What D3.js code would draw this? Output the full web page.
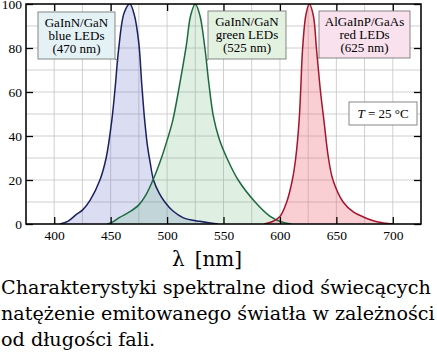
<!DOCTYPE html>
<html>
<head>
<meta charset="utf-8">
<script src="https://cdn.jsdelivr.net/npm/d3@7"></script>
<style>
  body { margin: 0; background: #fff; }
  svg { display: block; }
</style>
</head>
<body>
<div id="chart"></div>
<script>
// spectra: [wavelength nm, relative intensity %]
var blueLED = [[405,0],[412,1.2],[420,4.5],[425,6.3],[432,11],[440.5,20],[446,30],[451,47],[454,62],[457,79],[462,96],[467,100],[471,95],[475,82],[477.5,64],[480,48],[482.5,36],[485,28],[488,20],[493,14],[498,10],[505,6],[514.5,2.8],[529,1.2],[545,0]];
var greenLED = [[447,0],[452,1],[458,3],[467,5.6],[475,8.7],[481,13],[487.5,20],[495,30],[500,38],[505,47],[511,63],[517,81],[521,95],[525,100],[529,95],[533.5,80],[537,64],[541,49],[546,39],[553,30],[563,20],[578,10],[591,3.6],[601,1],[610,0]];
var redLED = [[586,0],[593,1],[600,3.4],[606,10],[611,20],[614,30],[617,47],[618.5,62],[620,79],[623,95],[626,100],[629.5,95],[632.5,79],[636,60],[639,47],[643,30],[647,20],[656,10],[665,5.5],[674,3.2],[686,1],[700,0]];

var xTicks = [400, 450, 500, 550, 600, 650, 700];
var yTicks = [0, 20, 40, 60, 80, 100];
var boxLabels = [
  ["GaInN/GaN", "blue LEDs", "(470 nm)"],
  ["GaInN/GaN", "green LEDs", "(525 nm)"],
  ["AlGaInP/GaAs", "red LEDs", "(625 nm)"]
];
var captionLines = [
  "Charakterystyki spektralne diod świecących",
  "natężenie emitowanego światła w zależności",
  "od długości fali."
];

var W = 437, H = 360;
var margin = {left: 26, right: 16, top: 4, bottom: 136};
var width = W - margin.left - margin.right;
var height = H - margin.top - margin.bottom;

var svg = d3.select("#chart").append("svg")
  .attr("width", W).attr("height", H);
svg.append("rect").attr("width", W).attr("height", H).attr("fill", "#fff");

svg.append("clipPath").attr("id", "plotClip")
  .append("rect").attr("width", width).attr("height", height);

var g = svg.append("g")
  .attr("transform", "translate(" + margin.left + "," + margin.top + ")");

var x = d3.scaleLinear().domain([375, 725]).range([0, width]);
var y = d3.scaleLinear().domain([0, 100]).range([height, 0]);

// grid, every 25 nm and every 10 %
g.append("g").selectAll("line").data(d3.range(375, 726, 25)).enter().append("line")
  .attr("x1", d => x(d)).attr("x2", d => x(d))
  .attr("y1", 0).attr("y2", height)
  .attr("stroke", "#c4c4c4").attr("stroke-width", 0.8);
g.append("g").selectAll("line").data(d3.range(0, 101, 10)).enter().append("line")
  .attr("y1", d => y(d)).attr("y2", d => y(d))
  .attr("x1", 0).attr("x2", width)
  .attr("stroke", "#c4c4c4").attr("stroke-width", 0.8);

var series = [
  {data: blueLED, fill: "rgba(105,115,205,0.24)", stroke: "#1b2160"},
  {data: greenLED, fill: "rgba(95,180,115,0.2)", stroke: "#1d6a40"},
  {data: redLED, fill: "rgba(240,95,110,0.3)", stroke: "#a3162e"}
];

var curve = d3.curveCatmullRom.alpha(0.5);
var area = d3.area().curve(curve)
  .x(d => x(d[0])).y0(y(0)).y1(d => y(d[1]));
var line = d3.line().curve(curve)
  .x(d => x(d[0])).y(d => y(d[1]));

var plot = g.append("g").attr("clip-path", "url(#plotClip)");
series.forEach(function(s){
  plot.append("path").datum(s.data).attr("d", area).attr("fill", s.fill);
});
series.forEach(function(s){
  plot.append("path").datum(s.data).attr("d", line)
    .attr("fill", "none").attr("stroke", s.stroke).attr("stroke-width", 1.5);
});

// frame
g.append("rect").attr("width", width).attr("height", height)
  .attr("fill", "none").attr("stroke", "#000").attr("stroke-width", 1.5);

// axes with inward ticks
var serif = "'Liberation Serif', 'Times New Roman', serif";
var xAxis = g.append("g").attr("transform", "translate(0," + height + ")")
  .call(d3.axisBottom(x).tickValues(xTicks).tickSizeInner(-7).tickSizeOuter(0).tickPadding(6));
var xAxisTop = g.append("g")
  .call(d3.axisTop(x).tickValues(xTicks).tickSizeInner(-7).tickSizeOuter(0).tickFormat(""));
var yAxis = g.append("g")
  .call(d3.axisLeft(y).tickValues(yTicks).tickSizeInner(-7).tickSizeOuter(0).tickPadding(4));
var yAxisRight = g.append("g").attr("transform", "translate(" + width + ",0)")
  .call(d3.axisRight(y).tickValues(yTicks).tickSizeInner(-7).tickSizeOuter(0).tickFormat(""));

[xAxis, xAxisTop, yAxis, yAxisRight].forEach(function(a){
  a.attr("font-family", null).attr("font-size", null);
  a.select(".domain").remove();
  a.selectAll(".tick line").attr("stroke", "#000").attr("stroke-width", 1.3);
  a.selectAll("text").style("font-family", serif).style("font-size", "13.5px").attr("fill", "#000");
});

// axis title
var xTitle = svg.append("text")
  .attr("x", 172).attr("y", 266)
  .style("font-family", "'DejaVu Serif', serif").style("font-size", "20px");
xTitle.append("tspan").text("λ");
xTitle.append("tspan").attr("dx", 10).text("[nm]");

// label boxes: [left, top, width, height] in px, leader target in data units
var boxes = [
  {pos: [38, 12, 77, 47], fill: "#e4f2f6", lines: boxLabels[0], corner: "right", target: [457, 74]},
  {pos: [208, 11, 78, 48], fill: "#e3f1e1", lines: boxLabels[1], corner: "left", target: [535, 74]},
  {pos: [319, 11, 91, 47], fill: "#f9e2ee", lines: boxLabels[2], corner: "left", target: [633, 75]}
];

boxes.forEach(function(b){
  var bx = b.pos[0], by = b.pos[1], bw = b.pos[2], bh = b.pos[3];
  var cx = b.corner == "right" ? bx + bw : bx;
  svg.append("line")
    .attr("x1", cx).attr("y1", by + bh)
    .attr("x2", margin.left + x(b.target[0])).attr("y2", margin.top + y(b.target[1]))
    .attr("stroke", "#555").attr("stroke-width", 0.8);
  svg.append("rect")
    .attr("x", bx).attr("y", by).attr("width", bw).attr("height", bh)
    .attr("fill", b.fill).attr("stroke", "#7a7a7a").attr("stroke-width", 0.9);
  b.lines.forEach(function(t, i){
    svg.append("text")
      .attr("x", bx + bw / 2).attr("y", by + 15 + i * 13)
      .attr("text-anchor", "middle")
      .style("font-family", serif).style("font-size", "13px")
      .text(t);
  });
});

// temperature box
svg.append("rect")
  .attr("x", 349).attr("y", 102).attr("width", 68).attr("height", 23)
  .attr("fill", "#fff").attr("stroke", "#7a7a7a").attr("stroke-width", 0.9);
var tText = svg.append("text")
  .attr("x", 383).attr("y", 118)
  .attr("text-anchor", "middle")
  .style("font-family", serif).style("font-size", "13px");
tText.append("tspan").attr("font-style", "italic").text("T");
tText.append("tspan").text(" = 25 °C");

// caption - size the font so the longest line just fits the width
var capText = svg.append("g").style("font-family", "'DejaVu Serif', serif");
var probe = capText.append("text").style("font-size", "20px").text(captionLines[1]);
var capSize = Math.min(19.5, 20 * 434 / probe.node().getComputedTextLength());
probe.remove();
captionLines.forEach(function(t, i){
  capText.append("text")
    .attr("x", 1).attr("y", 294 + i * 26)
    .style("font-size", capSize + "px")
    .text(t);
});
</script>
</body>
</html>
